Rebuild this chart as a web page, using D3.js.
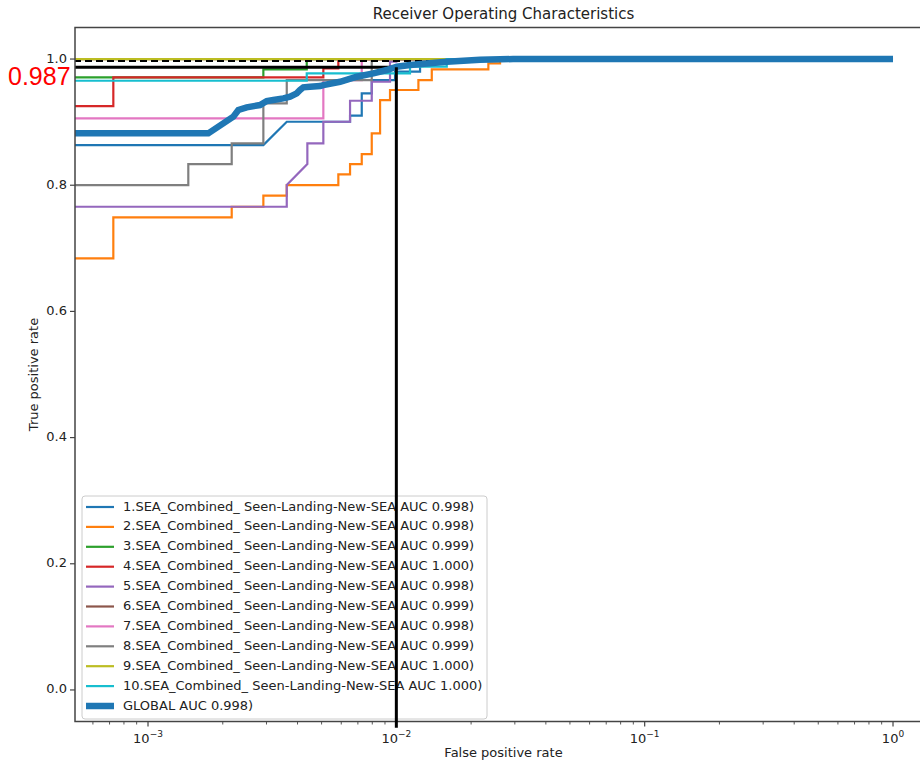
<!DOCTYPE html>
<html>
<head>
<meta charset="utf-8">
<script src="https://cdn.jsdelivr.net/npm/d3@7"></script>
<style>
  body { margin: 0; background: #fff; }
  svg { font-family: "DejaVu Sans", sans-serif; }
</style>
</head>
<body>
<div id="vis"></div>
<script>
// ROC curves, [fpr, tpr] pairs (fpr 0 sits off the left of the log axis)
const roc1 = [[0,0.8637],[2.914e-3,0.8637],[3.620e-3,0.9006],[6.51e-3,0.9006],[6.51e-3,0.9102],[7.256e-3,0.9102],[7.256e-3,0.9456],[7.961e-3,0.9456],[7.961e-3,0.9667],[9.88e-3,0.9667],[9.88e-3,0.98],[1.246e-2,0.98],[1.246e-2,1],[1,1]];
const roc2 = [[0,0.6842],[7.25e-4,0.6842],[7.25e-4,0.7491],[2.173e-3,0.7491],[2.173e-3,0.7659],[2.914e-3,0.7659],[2.914e-3,0.7834],[3.620e-3,0.7834],[3.620e-3,0.8003],[5.84e-3,0.8003],[5.84e-3,0.8173],[6.51e-3,0.8173],[6.51e-3,0.8336],[7.256e-3,0.8336],[7.256e-3,0.8494],[7.961e-3,0.8494],[7.961e-3,0.8822],[8.60e-3,0.8822],[8.60e-3,0.9350],[9.43e-3,0.9350],[9.43e-3,0.9509],[1.227e-2,0.9509],[1.227e-2,0.9667],[1.389e-2,0.9667],[1.389e-2,0.9837],[2.347e-2,0.9837],[2.347e-2,0.9932],[2.616e-2,0.9932],[2.616e-2,1],[1,1]];
const roc3 = [[0,0.9710],[2.914e-3,0.9710],[2.914e-3,0.9837],[4.357e-3,0.9837],[4.357e-3,1],[1,1]];
const roc4 = [[0,0.9255],[7.25e-4,0.9255],[7.25e-4,0.9710],[5.082e-3,0.9710],[5.082e-3,0.9853],[5.84e-3,0.9853],[5.84e-3,1],[1,1]];
const roc5 = [[0,0.7659],[3.62e-3,0.7659],[3.62e-3,0.8003],[4.382e-3,0.8336],[4.382e-3,0.8664],[5.082e-3,0.8664],[5.082e-3,0.9006],[6.51e-3,0.9006],[6.51e-3,0.9339],[7.961e-3,0.9339],[7.961e-3,0.9640],[9.43e-3,0.9640],[9.43e-3,0.9957],[1.0e-2,0.9957],[1.0e-2,1],[1,1]];
const roc6 = [[0,1],[1,1]];
const roc7 = [[0,0.9060],[5.082e-3,0.9060],[5.082e-3,0.9667],[7.256e-3,0.9667],[7.256e-3,1],[1,1]];
const roc8 = [[0,0.8003],[1.453e-3,0.8003],[1.453e-3,0.8336],[2.173e-3,0.8336],[2.173e-3,0.8664],[2.914e-3,0.8664],[2.914e-3,0.9298],[3.62e-3,0.9298],[3.62e-3,0.9667],[7.961e-3,0.9667],[7.961e-3,1],[1,1]];
const roc9 = [[0,1],[1,1]];
const roc10 = [[0,0.9656],[4.357e-3,0.9656],[4.357e-3,0.9773],[1.135e-2,0.9773],[1.135e-2,0.9880],[1.596e-2,0.9880],[1.596e-2,1],[1,1]];
const rocGlobal = [[0,0.8822],[1.749e-3,0.8822],[2.206e-3,0.9086],[2.311e-3,0.9192],[2.497e-3,0.9235],[2.826e-3,0.9271],[3.007e-3,0.9334],[3.196e-3,0.9350],[3.507e-3,0.9377],[3.732e-3,0.9403],[3.971e-3,0.9456],[4.095e-3,0.9509],[4.222e-3,0.9552],[4.493e-3,0.9561],[4.928e-3,0.9572],[5.082e-3,0.9588],[5.933e-3,0.9640],[6.93e-3,0.9720],[8.08e-3,0.9773],[9.15e-3,0.9826],[1.0037e-2,0.9878],[1.135e-2,0.9905],[1.596e-2,0.9957],[2.173e-2,0.9990],[2.951e-2,1],[1,1]];

const labels = ['1.SEA_Combined_ Seen-Landing-New-SEA AUC 0.998)', '2.SEA_Combined_ Seen-Landing-New-SEA AUC 0.998)',
    '3.SEA_Combined_ Seen-Landing-New-SEA AUC 0.999)', '4.SEA_Combined_ Seen-Landing-New-SEA AUC 1.000)',
    '5.SEA_Combined_ Seen-Landing-New-SEA AUC 0.998)', '6.SEA_Combined_ Seen-Landing-New-SEA AUC 0.999)',
    '7.SEA_Combined_ Seen-Landing-New-SEA AUC 0.998)', '8.SEA_Combined_ Seen-Landing-New-SEA AUC 0.999)',
    '9.SEA_Combined_ Seen-Landing-New-SEA AUC 1.000)', '10.SEA_Combined_ Seen-Landing-New-SEA AUC 1.000)'];
const globalLabel = 'GLOBAL AUC 0.998)';
const colors = ['#1f77b4', '#ff7f0e', '#2ca02c', '#d62728', '#9467bd', '#8c564b', '#e377c2', '#7f7f7f', '#bcbd22', '#17becf'];
const curves = [roc1, roc2, roc3, roc4, roc5, roc6, roc7, roc8, roc9, roc10];

// marker lines: threshold at fpr 0.01, tpr 0.987
const markFpr = 0.01;
const markTpr = 0.987;
const refTpr = 0.9968;
const yTicks = [0, 0.2, 0.4, 0.6, 0.8, 1.0];
const xTicks = [-3, -2, -1, 0];

const width = 920;
const height = 765;
const margin = {left: 75, top: 27.5, right: 932, bottom: 721.5};

const x = d3.scaleLog().domain([Math.pow(10, -3.294), Math.pow(10, 0.157)]).range([margin.left, margin.right]);
const y = d3.scaleLinear().domain([-0.05, 1.05]).range([margin.bottom, margin.top]);
const xv = f => x(Math.max(f, 1e-6));

const svg = d3.select('#vis').append('svg')
    .attr('width', width)
    .attr('height', height);

svg.append('defs').append('clipPath')
    .attr('id', 'plotclip')
    .append('rect')
    .attr('x', margin.left)
    .attr('y', margin.top)
    .attr('width', margin.right - margin.left)
    .attr('height', margin.bottom - margin.top);

const line = d3.line().x(d => xv(d[0])).y(d => y(d[1]));
const plot = svg.append('g').attr('clip-path', 'url(#plotclip)');

for (let i = 0; i < curves.length; i++) {
    plot.append('path')
        .attr('d', line(curves[i]))
        .attr('fill', 'none')
        .attr('stroke', colors[i])
        .attr('stroke-width', 2.2);
}

// dashed reference line
plot.append('path')
    .attr('d', line([[0, refTpr], [1, refTpr]]))
    .attr('fill', 'none')
    .attr('stroke', 'black')
    .attr('stroke-width', 2)
    .attr('stroke-dasharray', '7,4');

// horizontal marker at tpr 0.987
plot.append('path')
    .attr('d', line([[0, markTpr], [markFpr, markTpr]]))
    .attr('fill', 'none')
    .attr('stroke', 'black')
    .attr('stroke-width', 3);

plot.append('path')
    .attr('d', line(rocGlobal))
    .attr('fill', 'none')
    .attr('stroke', '#1f77b4')
    .attr('stroke-width', 6.5);

// axes frame
svg.append('rect')
    .attr('x', margin.left)
    .attr('y', margin.top)
    .attr('width', margin.right - margin.left)
    .attr('height', margin.bottom - margin.top)
    .attr('fill', 'none')
    .attr('stroke', '#444')
    .attr('stroke-width', 1.5);

// y ticks
yTicks.forEach(t => {
    svg.append('line')
        .attr('x1', margin.left - 5).attr('x2', margin.left)
        .attr('y1', y(t)).attr('y2', y(t))
        .attr('stroke', '#444').attr('stroke-width', 1.2);
    svg.append('text')
        .attr('x', margin.left - 8)
        .attr('y', y(t))
        .attr('text-anchor', 'end')
        .attr('dominant-baseline', 'middle')
        .attr('font-size', '13px')
        .attr('fill', '#222')
        .text(t.toFixed(1));
});

// x ticks, major and minor
xTicks.forEach(k => {
    const v = Math.pow(10, k);
    svg.append('line')
        .attr('x1', x(v)).attr('x2', x(v))
        .attr('y1', margin.bottom).attr('y2', margin.bottom + 5)
        .attr('stroke', '#444').attr('stroke-width', 1.2);
    const t = svg.append('text')
        .attr('x', x(v))
        .attr('y', margin.bottom + 21)
        .attr('text-anchor', 'middle')
        .attr('font-size', '13px')
        .attr('fill', '#222');
    t.append('tspan').text('10');
    t.append('tspan')
        .attr('dy', -6)
        .attr('font-size', '9px')
        .text(k === 0 ? '0' : '\u2212' + Math.abs(k));
});
for (let k = -4; k <= 0; k++) {
    for (let m = 2; m <= 9; m++) {
        const v = m * Math.pow(10, k);
        if (v < x.domain()[0] || v > x.domain()[1]) continue;
        svg.append('line')
            .attr('x1', x(v)).attr('x2', x(v))
            .attr('y1', margin.bottom).attr('y2', margin.bottom + 3)
            .attr('stroke', '#444').attr('stroke-width', 0.9);
    }
}

svg.append('text')
    .attr('x', (margin.left + margin.right) / 2)
    .attr('y', 19)
    .attr('text-anchor', 'middle')
    .attr('font-size', '15px')
    .attr('fill', '#222')
    .text('Receiver Operating Characteristics');

svg.append('text')
    .attr('x', (margin.left + margin.right) / 2)
    .attr('y', 757)
    .attr('text-anchor', 'middle')
    .attr('font-size', '13px')
    .attr('fill', '#222')
    .text('False positive rate');

svg.append('text')
    .attr('transform', 'translate(38,' + y(0.5) + ') rotate(-90)')
    .attr('text-anchor', 'middle')
    .attr('font-size', '13px')
    .attr('fill', '#222')
    .text('True positive rate');

// legend
const lg = svg.append('g');
const lx = 82, ly = 496, rowH = 19.9;
lg.append('rect')
    .attr('x', lx).attr('y', ly)
    .attr('width', 405).attr('height', 223)
    .attr('rx', 3)
    .attr('fill', 'white').attr('fill-opacity', 0.8)
    .attr('stroke', '#ccc').attr('stroke-width', 1);

const items = labels.map((l, i) => ({label: l, color: colors[i], w: 2.2}));
items.push({label: globalLabel, color: '#1f77b4', w: 6.5});
items.forEach((d, i) => {
    const cy = ly + 11 + i * rowH;
    lg.append('line')
        .attr('x1', lx + 4).attr('x2', lx + 32)
        .attr('y1', cy).attr('y2', cy)
        .attr('stroke', d.color).attr('stroke-width', d.w);
    lg.append('text')
        .attr('x', lx + 41)
        .attr('y', cy)
        .attr('dominant-baseline', 'middle')
        .attr('font-size', '13px')
        .attr('fill', '#222')
        .text(d.label);
});

// vertical marker at fpr 0.01, drawn over everything
svg.append('line')
    .attr('x1', x(markFpr)).attr('x2', x(markFpr))
    .attr('y1', y(markTpr)).attr('y2', y(-0.06))
    .attr('stroke', 'black')
    .attr('stroke-width', 3);

svg.append('text')
    .attr('x', 8)
    .attr('y', 78)
    .attr('dominant-baseline', 'middle')
    .attr('font-family', 'Liberation Sans')
    .attr('font-size', '25px')
    .attr('fill', 'red')
    .text(markTpr.toFixed(3));
</script>
</body>
</html>
